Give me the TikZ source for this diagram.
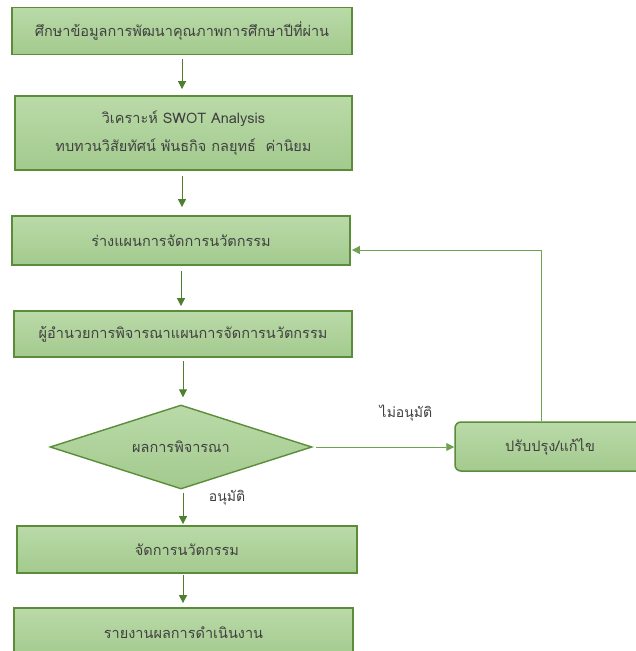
\documentclass[tikz,border=0pt]{standalone}
\usepackage{fontspec}
\newfontfamily\thaifont[Script=Thai]{Loma}
\usetikzlibrary{shapes.geometric,arrows.meta}
\definecolor{boxline}{HTML}{5B8C3A}
\definecolor{boxtop}{HTML}{BADAA8}
\definecolor{boxbot}{HTML}{A3CA8E}
\definecolor{arrline}{HTML}{4F7F2E}
\definecolor{loopline}{HTML}{6FA34F}
\definecolor{txt}{HTML}{404040}
\tikzset{
    box/.style={shape=rectangle, draw=boxline, line width=1.8pt, top color=boxtop, bottom color=boxbot, text=txt, align=center, font=\thaifont\fontsize{14.5}{28}\selectfont},
    fixbox/.style={box, rounded corners=6pt, line width=1.5pt},
    decision/.style={box, shape=diamond, aspect=3.1, line width=1.4pt, inner sep=0pt},
    arr/.style={draw=arrline, line width=1pt, -{Triangle[length=8pt, width=8pt]}},
    looparr/.style={arr, draw=loopline, line width=0.9pt},
    lbl/.style={text=txt, font=\thaifont\fontsize{14}{16}\selectfont}
}
\begin{document}
\begin{tikzpicture}[x=1pt, y=-1pt]
    \useasboundingbox (0, 0) rectangle (636, 651);
    \clip (0, 0) rectangle (636, 651);
    % Boxes:
    \node[box, minimum width=340pt, minimum height=47pt] (study) at (182, 31) {ศึกษาข้อมูลการพัฒนาคุณภาพการศึกษาปีที่ผ่าน};
    \node[box, minimum width=337pt, minimum height=74pt] (swot) at (183.5, 133) {วิเคราะห์ SWOT Analysis\\ทบทวนวิสัยทัศน์ พันธกิจ กลยุทธ์~~ค่านิยม};
    \node[box, minimum width=338pt, minimum height=49pt] (draft) at (181, 240.5) {ร่างแผนการจัดการนวัตกรรม};
    \node[box, minimum width=338pt, minimum height=46pt] (review) at (183, 334) {ผู้อำนวยการพิจารณาแผนการจัดการนวัตกรรม};
    \node[decision, minimum width=262pt, minimum height=84pt] (result) at (181, 447) {ผลการพิจารณา};
    \node[fixbox, minimum width=190pt, minimum height=49pt] (fix) at (550, 446.5) {ปรับปรุง/แก้ไข};
    \node[box, minimum width=340pt, minimum height=47pt] (manage) at (187, 549.5) {จัดการนวัตกรรม};
    \node[box, minimum width=339pt, minimum height=50pt] (report) at (183.5, 633) {รายงานผลการดำเนินงาน};
    \coordinate (turn) at (541, 250);
    % Arrows:
    \draw[arr, shorten <=4pt, shorten >=6pt] (study.south) -- (study.south |- swot.north);
    \draw[arr, shorten <=5pt, shorten >=8pt] (swot.south -| study.south) -- (study.south |- draft.north);
    \draw[arr, shorten <=5pt, shorten >=4pt] (draft.south) -- (draft.south |- review.north);
    \draw[arr, shorten <=3pt, shorten >=7pt] (review.south) -- (review.south |- result.north);
    \draw[arr, shorten <=3pt, shorten >=1pt] (result.south -| review.south) -- (review.south |- manage.north);
    \draw[arr, shorten <=1pt, shorten >=4pt] (manage.south -| review.south) -- (review.south |- report.north);
    \draw[looparr, shorten <=3pt] (result.east) -- (fix.west |- result.east);
    \draw[looparr, shorten >=1pt] (fix.north -| turn) -- (turn) -- (turn -| draft.east);
    % Labels:
    \node[lbl] (yes) at (227, 498) {อนุมัติ};
    \node[lbl] (no) at (406, 413) {ไม่อนุมัติ};
\end{tikzpicture}
\end{document}
